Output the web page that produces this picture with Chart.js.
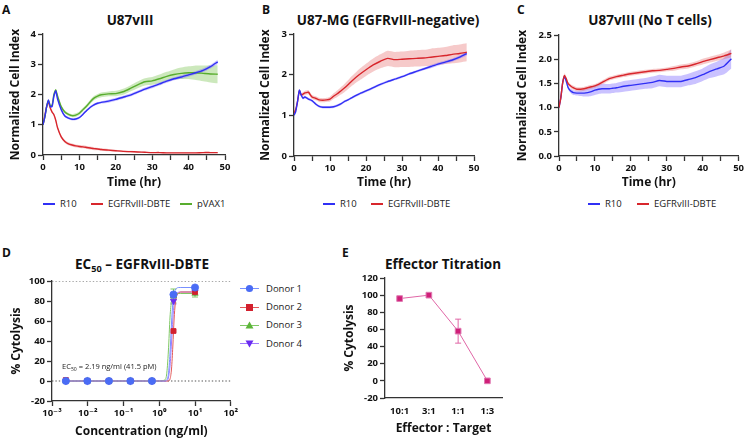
<!DOCTYPE html>
<html>
<head>
<meta charset="utf-8">
<script src="https://cdn.jsdelivr.net/npm/chart.js@4/dist/chart.umd.min.js"></script>
<style>
  html, body { margin: 0; padding: 0; background: #fff; }
  body { width: 746px; height: 438px; position: relative; overflow: hidden; font-family: 'Open Sans', 'DejaVu Sans', sans-serif; color: #111; }
  canvas { position: absolute; }
  .letter { position: absolute; font-weight: bold; font-size: 12px; line-height: 1; }
  .ttl { position: absolute; font-weight: bold; font-size: 13.5px; white-space: nowrap; transform: translate(-50%, -50%); line-height: 1; }
  .ttl sub, .note sub { font-size: 68%; vertical-align: -0.3em; line-height: 0; }
  .leg { position: absolute; font-size: 9.5px; white-space: nowrap; transform: translateY(-50%); line-height: 1; color: #222; }
  .sw { position: absolute; height: 1.8px; width: 12px; }
  .note { position: absolute; font-size: 7.5px; white-space: nowrap; transform: translateY(-50%); line-height: 1; color: #222; }
  svg.dl { position: absolute; }
</style>
</head>
<body>
<div class="letter" style="left:2px;top:4px">A</div>
<div class="letter" style="left:262px;top:4px">B</div>
<div class="letter" style="left:517px;top:4px">C</div>
<div class="letter" style="left:2px;top:247px">D</div>
<div class="letter" style="left:342px;top:247px">E</div>

<div class="ttl" style="left:130px;top:21px">U87vIII</div>
<div class="ttl" style="left:388px;top:21px">U87-MG (EGFRvIII-negative)</div>
<div class="ttl" style="left:650px;top:21px">U87vIII (No T cells)</div>
<div class="ttl" style="left:142px;top:265px">EC<sub>50</sub> – EGFRvIII-DBTE</div>
<div class="ttl" style="left:443px;top:265px">Effector Titration</div>

<canvas id="chartA" width="240" height="195" style="left:0;top:0"></canvas>
<canvas id="chartB" width="245" height="195" style="left:245px;top:0"></canvas>
<canvas id="chartC" width="246" height="195" style="left:500px;top:0"></canvas>
<canvas id="chartD" width="240" height="198" style="left:0;top:240px"></canvas>
<canvas id="chartE" width="186" height="198" style="left:330px;top:240px"></canvas>

<div id="legends"></div>
<div class="note" style="left:62px;top:367px">EC<sub>50</sub> = 2.19 ng/ml (41.5 pM)</div>

<script>
// ---- data ----
const T = [0, 0.5, 1, 1.5, 2, 2.5, 3, 3.5, 4, 5, 6, 7, 8, 9, 10, 11, 12, 13, 14, 15, 16,
  18, 20, 22, 24, 26, 28, 30, 32, 34, 36, 38, 40, 42, 44, 46, 48];

// A: U87vIII
const A_R10 = [1.00, 1.25, 1.60, 1.82, 1.60, 1.60, 1.95, 2.12, 1.85, 1.50, 1.29, 1.22, 1.18, 1.19, 1.24, 1.35, 1.47, 1.58, 1.66, 1.71, 1.74,
  1.78, 1.84, 1.91, 1.98, 2.08, 2.18, 2.26, 2.35, 2.44, 2.52, 2.58, 2.65, 2.72, 2.80, 2.92, 3.08];
const A_R10_SD = [0.02, 0.02, 0.03, 0.03, 0.03, 0.03, 0.03, 0.03, 0.03, 0.04, 0.04, 0.04, 0.04, 0.04, 0.04, 0.04, 0.04, 0.04, 0.04, 0.04, 0.04,
  0.05, 0.05, 0.05, 0.05, 0.05, 0.05, 0.05, 0.05, 0.05, 0.05, 0.06, 0.06, 0.06, 0.06, 0.06, 0.07];
const A_DBTE = [1.00, 1.30, 1.60, 1.75, 1.55, 1.42, 1.33, 1.15, 0.90, 0.60, 0.45, 0.37, 0.33, 0.30, 0.28, 0.27, 0.25, 0.23, 0.21, 0.20, 0.18,
  0.16, 0.14, 0.12, 0.11, 0.10, 0.09, 0.08, 0.08, 0.07, 0.07, 0.07, 0.07, 0.07, 0.08, 0.08, 0.08];
const A_DBTE_SD = [0.02, 0.03, 0.03, 0.03, 0.03, 0.03, 0.03, 0.04, 0.04, 0.05, 0.05, 0.05, 0.05, 0.05, 0.05, 0.05, 0.05, 0.05, 0.05, 0.04, 0.04,
  0.04, 0.03, 0.03, 0.03, 0.02, 0.02, 0.02, 0.02, 0.02, 0.02, 0.02, 0.02, 0.02, 0.02, 0.02, 0.02];
const A_PVAX = [1.00, 1.25, 1.60, 1.80, 1.62, 1.65, 2.00, 2.15, 1.95, 1.60, 1.42, 1.34, 1.30, 1.32, 1.38, 1.50, 1.62, 1.76, 1.88, 1.95, 1.99,
  2.02, 2.03, 2.09, 2.20, 2.32, 2.42, 2.45, 2.52, 2.60, 2.66, 2.70, 2.72, 2.72, 2.70, 2.68, 2.67];
const A_PVAX_SD = [0.03, 0.03, 0.03, 0.03, 0.03, 0.03, 0.04, 0.04, 0.04, 0.05, 0.05, 0.05, 0.05, 0.06, 0.06, 0.06, 0.06, 0.07, 0.07, 0.07, 0.08,
  0.08, 0.09, 0.10, 0.10, 0.11, 0.12, 0.13, 0.14, 0.15, 0.17, 0.19, 0.21, 0.24, 0.26, 0.28, 0.30];

// B: U87-MG (EGFRvIII-negative)
const B_R10 = [1.00, 1.10, 1.35, 1.62, 1.50, 1.42, 1.45, 1.43, 1.40, 1.36, 1.28, 1.22, 1.20, 1.20, 1.20, 1.21, 1.24, 1.28, 1.34, 1.38, 1.43,
  1.52, 1.60, 1.68, 1.76, 1.83, 1.89, 1.95, 2.02, 2.08, 2.14, 2.20, 2.26, 2.31, 2.36, 2.43, 2.52];
const B_R10_SD = [0.02, 0.02, 0.03, 0.03, 0.03, 0.03, 0.03, 0.03, 0.03, 0.03, 0.03, 0.03, 0.03, 0.03, 0.03, 0.03, 0.03, 0.03, 0.03, 0.03, 0.03,
  0.03, 0.03, 0.03, 0.03, 0.03, 0.03, 0.03, 0.03, 0.03, 0.03, 0.04, 0.04, 0.04, 0.04, 0.04, 0.05];
const B_DBTE = [1.05, 1.15, 1.35, 1.60, 1.50, 1.52, 1.55, 1.56, 1.57, 1.45, 1.42, 1.38, 1.37, 1.38, 1.40, 1.47, 1.53, 1.60, 1.67, 1.75, 1.84,
  1.99, 2.12, 2.24, 2.33, 2.40, 2.37, 2.38, 2.39, 2.40, 2.41, 2.43, 2.45, 2.47, 2.50, 2.52, 2.55];
const B_DBTE_SD = [0.04, 0.04, 0.05, 0.05, 0.05, 0.05, 0.05, 0.05, 0.05, 0.05, 0.05, 0.05, 0.05, 0.05, 0.06, 0.07, 0.08, 0.09, 0.10, 0.11, 0.12,
  0.14, 0.15, 0.16, 0.17, 0.19, 0.19, 0.19, 0.20, 0.20, 0.20, 0.21, 0.21, 0.21, 0.22, 0.22, 0.22];

// C: U87vIII (No T cells)
const C_R10 = [1.00, 1.20, 1.50, 1.64, 1.55, 1.42, 1.36, 1.33, 1.31, 1.30, 1.30, 1.30, 1.31, 1.33, 1.36, 1.38, 1.39, 1.39, 1.39, 1.40, 1.41,
  1.44, 1.46, 1.48, 1.50, 1.52, 1.56, 1.54, 1.54, 1.54, 1.58, 1.62, 1.68, 1.75, 1.80, 1.86, 2.01];
const C_R10_SD = [0.02, 0.03, 0.03, 0.04, 0.04, 0.04, 0.04, 0.05, 0.05, 0.05, 0.06, 0.07, 0.08, 0.09, 0.10, 0.10, 0.10, 0.10, 0.10, 0.10, 0.10,
  0.11, 0.11, 0.11, 0.11, 0.12, 0.12, 0.12, 0.12, 0.12, 0.12, 0.13, 0.13, 0.14, 0.15, 0.17, 0.20];
const C_DBTE = [1.00, 1.20, 1.50, 1.66, 1.60, 1.50, 1.46, 1.43, 1.41, 1.38, 1.38, 1.39, 1.41, 1.43, 1.45, 1.48, 1.52, 1.56, 1.60, 1.62, 1.64,
  1.67, 1.70, 1.72, 1.74, 1.76, 1.77, 1.79, 1.81, 1.84, 1.86, 1.90, 1.95, 1.99, 2.03, 2.07, 2.12];
const C_DBTE_SD = [0.02, 0.03, 0.04, 0.05, 0.05, 0.04, 0.04, 0.04, 0.04, 0.04, 0.04, 0.04, 0.04, 0.04, 0.04, 0.04, 0.04, 0.04, 0.04, 0.04, 0.04,
  0.04, 0.04, 0.04, 0.04, 0.04, 0.04, 0.04, 0.05, 0.05, 0.05, 0.05, 0.06, 0.06, 0.06, 0.07, 0.08];

// D: dose response
const D_CONC = [0.00244, 0.00977, 0.0391, 0.156, 0.625, 2.5, 10];
const D_DONOR1 = [0, 0, 0, 0, 0, 86.5, 93.5];
const D_DONOR2 = [1, 0, 0, 0, 0, 50, 89];
const D_DONOR3 = [0, 0, 0, 0, 0, 85, 87.5];
const D_DONOR4 = [0, 0, 0, 0, 0, 80, 89];
const D_DONOR1_ERR = [0, 0, 0, 0, 0, 1.5, 1];
const D_DONOR2_ERR = [0, 0, 0, 0, 0, 1, 1];
const D_DONOR3_ERR = [0, 0, 0, 0, 0, 7, 3.5];
const D_DONOR4_ERR = [0, 0, 0, 0, 0, 3, 1];
const D_FIT_X = [0.00244, 1.0, 1.4, 1.6, 1.8, 2.0, 2.2, 2.4, 2.6, 2.8, 3.0, 3.5, 4.0, 10];
const D_FIT1 = [0, 0, 0, 1, 7, 28, 58, 78, 87, 91, 92.5, 93.5, 93.5, 93.5];
const D_FIT2 = [0, 0, 0, 0, 0, 2, 12, 35, 62, 77, 84, 88, 89, 89];
const D_FIT3 = [0, 0, 1, 6, 30, 64, 80, 85, 86.5, 87, 87.3, 87.5, 87.5, 87.5];
const D_FIT4 = [0, 0, 0, 0, 3, 15, 38, 62, 77, 84, 87, 88.8, 89, 89];
const D_REF = [0, 100];
const D_TICKS = [1e-3, 1e-2, 1e-1, 1e0, 1e1, 1e2];

// E: effector titration
const E_RATIOS = ['10:1', '3:1', '1:1', '1:3'];
const E_CYTO = [96, 100, 58, 0];
const E_ERR = [0, 0, 14, 0];

// ---- style ----
const FONT = "'Open Sans', 'DejaVu Sans', sans-serif";
const INK = '#111';
const AXIS = '#333';
const TICK = { family: FONT, size: 9.5, weight: 'bold' };
const AXIS_TITLE = { family: FONT, size: 12, weight: 'bold' };
const BLUE = '#3030f5', RED = '#d8262c', GREEN = '#58ad2e';
const BLUE_BAND = 'rgba(115, 95, 255, 0.38)', RED_BAND = 'rgba(228, 90, 90, 0.32)', GREEN_BAND = 'rgba(120, 195, 80, 0.38)';

const errorBars = {
  id: 'errorBars',
  beforeDatasetsDraw(chart) {
    const { ctx } = chart;
    const yScale = chart.scales.y;
    chart.data.datasets.forEach((ds, i) => {
      if (!ds.errors) return;
      const meta = chart.getDatasetMeta(i);
      meta.data.forEach((pt, j) => {
        const e = ds.errors[j];
        if (!e) return;
        const raw = ds.data[j];
        const v = typeof raw === 'number' ? raw : raw.y;
        const top = yScale.getPixelForValue(v + e);
        const bot = yScale.getPixelForValue(v - e);
        ctx.save();
        ctx.strokeStyle = ds.errorColor || ds.borderColor;
        ctx.lineWidth = 1;
        ctx.beginPath();
        ctx.moveTo(pt.x, top); ctx.lineTo(pt.x, bot);
        ctx.moveTo(pt.x - 3, top); ctx.lineTo(pt.x + 3, top);
        ctx.moveTo(pt.x - 3, bot); ctx.lineTo(pt.x + 3, bot);
        ctx.stroke();
        ctx.restore();
      });
    });
  },
};

function panelScales(W, H, plot, xs, ys) {
  const lh = AXIS_TITLE.size * 1.2;
  const x = {
    type: xs.type || 'linear',
    min: xs.min,
    max: xs.max,
    offset: !!xs.offset,
    border: { display: true, color: AXIS, width: 1.3 },
    grid: { drawOnChartArea: false, drawTicks: xs.drawTicks !== false, tickLength: 5, tickColor: AXIS, tickWidth: 1.3 },
    title: { display: true, text: xs.title, font: AXIS_TITLE, color: INK, padding: { top: 0, bottom: H - xs.titleY - lh / 2 } },
    ticks: Object.assign({ font: TICK, color: INK, padding: 2, autoSkip: false, maxRotation: 0 }, xs.ticks),
    afterFit: (s) => { s.height = H - plot.bottom; },
  };
  if (xs.afterBuildTicks) x.afterBuildTicks = xs.afterBuildTicks;
  const y = {
    min: ys.min,
    max: ys.max,
    border: { display: true, color: AXIS, width: 1.3 },
    grid: { drawOnChartArea: false, drawTicks: true, tickLength: 5, tickColor: AXIS, tickWidth: 1.3 },
    title: { display: true, text: ys.title, font: AXIS_TITLE, color: INK, padding: { top: ys.titleX - lh / 2, bottom: 0 } },
    ticks: Object.assign({ font: TICK, color: INK, padding: 2, stepSize: ys.step }, ys.ticks),
    afterFit: (s) => { s.width = plot.left; },
  };
  return { x, y };
}

function baseOptions(W, plot, scales) {
  return {
    responsive: false,
    animation: false,
    events: [],
    layout: { padding: { left: 0, top: plot.top, right: W - plot.right, bottom: 0 } },
    plugins: {
      legend: { display: false },
      tooltip: { enabled: false },
      title: { display: false },
      filler: { drawTime: 'beforeDatasetsDraw' },
    },
    scales,
  };
}

function lineSet(mean, color) {
  return { data: T.map((t, i) => ({ x: t, y: mean[i] })), borderColor: color, borderWidth: 1.4, pointRadius: 0, fill: false, tension: 0.2 };
}

function bandSets(mean, sd, band) {
  return [
    { data: T.map((t, i) => ({ x: t, y: mean[i] + sd[i] })), borderWidth: 0, pointRadius: 0, fill: '+1', backgroundColor: band, tension: 0.2 },
    { data: T.map((t, i) => ({ x: t, y: mean[i] - sd[i] })), borderWidth: 0, pointRadius: 0, fill: false, tension: 0.2 },
  ];
}

function timePanel(id, W, H, plot, yMax, yStep, yFmt, yTitleX, series) {
  const datasets = series.map((s) => lineSet(s.mean, s.color));
  series.forEach((s) => datasets.push(...bandSets(s.mean, s.sd, s.band)));
  const scales = panelScales(W, H, plot,
    { min: 0, max: 50, title: 'Time (hr)', titleY: 183, ticks: { stepSize: 5, callback: (v) => (v % 10 === 0 ? v : '') } },
    { min: 0, max: yMax, step: yStep, title: 'Normalized Cell Index', titleX: yTitleX, ticks: yFmt ? { callback: yFmt } : {} });
  new Chart(document.getElementById(id), { type: 'line', data: { datasets }, options: baseOptions(W, plot, scales) });
}

timePanel('chartA', 240, 195, { left: 43, top: 34, right: 225, bottom: 155 }, 4, 1, null, 16, [
  { mean: A_R10, sd: A_R10_SD, color: BLUE, band: BLUE_BAND },
  { mean: A_PVAX, sd: A_PVAX_SD, color: GREEN, band: GREEN_BAND },
  { mean: A_DBTE, sd: A_DBTE_SD, color: RED, band: RED_BAND },
]);

timePanel('chartB', 245, 195, { left: 49, top: 34, right: 229, bottom: 156 }, 3, 1, null, 21, [
  { mean: B_R10, sd: B_R10_SD, color: BLUE, band: BLUE_BAND },
  { mean: B_DBTE, sd: B_DBTE_SD, color: RED, band: RED_BAND },
]);

timePanel('chartC', 246, 195, { left: 59, top: 35, right: 239, bottom: 156 }, 2.5, 0.5, (v) => v.toFixed(1), 22.5, [
  { mean: C_DBTE, sd: C_DBTE_SD, color: RED, band: RED_BAND },
  { mean: C_R10, sd: C_R10_SD, color: BLUE, band: BLUE_BAND },
]);

// ---- D ----
const SUP = { '-': '⁻', '0': '⁰', '1': '¹', '2': '²', '3': '³' };
function powLabel(v) {
  const e = String(Math.round(Math.log10(v)));
  return '10' + e.split('').map((c) => SUP[c]).join('');
}

const DONORS = [
  { vals: D_DONOR1, err: D_DONOR1_ERR, fit: D_FIT1, mark: '#4a6cf5', line: '#7890ff', style: 'circle', rot: 0 },
  { vals: D_DONOR2, err: D_DONOR2_ERR, fit: D_FIT2, mark: '#d3202e', line: '#e25a5a', style: 'rect', rot: 0 },
  { vals: D_DONOR3, err: D_DONOR3_ERR, fit: D_FIT3, mark: '#5db53a', line: '#80c865', style: 'triangle', rot: 0 },
  { vals: D_DONOR4, err: D_DONOR4_ERR, fit: D_FIT4, mark: '#6a2cf0', line: '#a07aff', style: 'triangle', rot: 180 },
];

(function drawD() {
  const W = 240, H = 198;
  const plot = { left: 52, top: 41, right: 232, bottom: 161 };
  const datasets = [];
  DONORS.forEach((d) => datasets.push({
    data: D_CONC.map((c, i) => ({ x: c, y: d.vals[i] })),
    showLine: false, pointStyle: d.style, rotation: d.rot, pointRadius: d.style === 'rect' ? 3.5 : 3.6,
    backgroundColor: d.mark, borderColor: d.mark, pointBorderWidth: 0.8, errors: d.err, errorColor: d.line,
  }));
  DONORS.forEach((d) => datasets.push({
    data: D_FIT_X.map((c, i) => ({ x: c, y: d.fit[i] })),
    borderColor: d.line, borderWidth: 1, pointRadius: 0, cubicInterpolationMode: 'monotone',
  }));
  D_REF.forEach((r) => datasets.push({
    data: [{ x: D_TICKS[0], y: r }, { x: D_TICKS[D_TICKS.length - 1], y: r }],
    borderColor: '#555', borderWidth: 1.2, borderDash: [1.4, 2], pointRadius: 0,
  }));
  const scales = panelScales(W, H, plot,
    { type: 'logarithmic', min: 1e-3, max: 1e2, title: 'Concentration (ng/ml)', titleY: 192,
      afterBuildTicks: (s) => { s.ticks = D_TICKS.map((v) => ({ value: v })); },
      ticks: { callback: (v) => powLabel(v) } },
    { min: -20, max: 100, step: 20, title: '% Cytolysis', titleX: 17 });
  new Chart(document.getElementById('chartD'), {
    type: 'line', data: { datasets }, options: baseOptions(W, plot, scales), plugins: [errorBars],
  });
})();

// ---- E ----
(function drawE() {
  const W = 186, H = 198;
  const plot = { left: 55, top: 38, right: 172, bottom: 158 };
  const scales = panelScales(W, H, plot,
    { type: 'category', offset: true, drawTicks: false, title: 'Effector : Target', titleY: 189, ticks: { padding: 8 } },
    { min: -20, max: 120, step: 20, title: '% Cytolysis', titleX: 20 });
  new Chart(document.getElementById('chartE'), {
    type: 'line',
    data: {
      labels: E_RATIOS,
      datasets: [{
        data: E_CYTO, errors: E_ERR, errorColor: '#e066a6',
        borderColor: '#e066a6', borderWidth: 1, pointStyle: 'rect', pointRadius: 4,
        pointBackgroundColor: '#cf1f78', pointBorderColor: '#e07ab2', pointBorderWidth: 1,
      }],
    },
    options: baseOptions(W, plot, scales),
    plugins: [errorBars],
  });
})();

// ---- legends ----
const LEGENDS = [
  { y: 204, items: [['R10', BLUE, 43], ['EGFRvIII-DBTE', RED, 91], ['pVAX1', GREEN, 180]] },
  { y: 204, items: [['R10', BLUE, 323], ['EGFRvIII-DBTE', RED, 371]] },
  { y: 204, items: [['R10', BLUE, 588], ['EGFRvIII-DBTE', RED, 637]] },
];
const legendRoot = document.getElementById('legends');
LEGENDS.forEach((g) => g.items.forEach(([name, color, x]) => {
  legendRoot.insertAdjacentHTML('beforeend',
    `<div class="sw" style="left:${x}px;top:${g.y - 0.9}px;background:${color}"></div>` +
    `<div class="leg" style="left:${x + 17}px;top:${g.y}px">${name}</div>`);
}));

const D_LEG_Y = [288.7, 307, 325.3, 343.7];
DONORS.forEach((d, i) => {
  const y = D_LEG_Y[i];
  let shape;
  if (d.style === 'circle') shape = `<circle cx="9.5" cy="5.5" r="3.6" fill="${d.mark}"/>`;
  else if (d.style === 'rect') shape = `<rect x="6" y="2" width="7" height="7" fill="${d.mark}"/>`;
  else if (d.rot === 0) shape = `<polygon points="9.5,1.5 13.5,8.5 5.5,8.5" fill="${d.mark}"/>`;
  else shape = `<polygon points="5.5,2.5 13.5,2.5 9.5,9.5" fill="${d.mark}"/>`;
  legendRoot.insertAdjacentHTML('beforeend',
    `<svg class="dl" width="19" height="11" style="left:240px;top:${y - 5.5}px">` +
    `<line x1="0" y1="5.5" x2="19" y2="5.5" stroke="${d.line}" stroke-width="1"/>${shape}</svg>` +
    `<div class="leg" style="left:266px;top:${y}px;font-size:9.5px">Donor ${i + 1}</div>`);
});
</script>
</body>
</html>
